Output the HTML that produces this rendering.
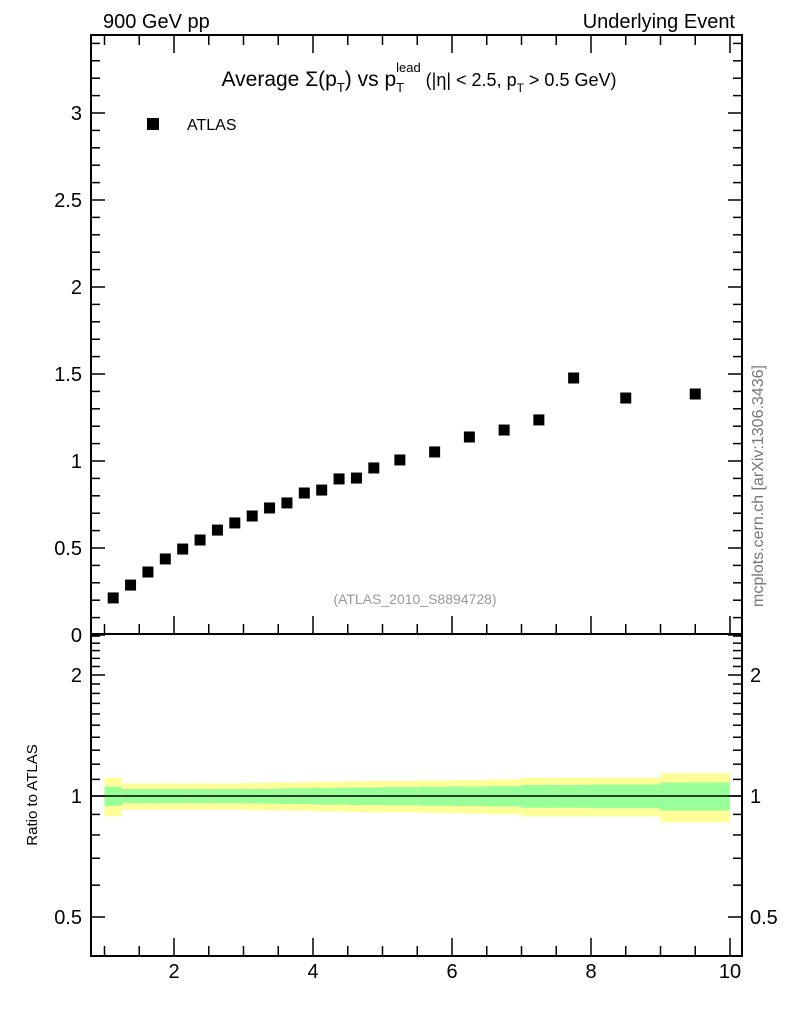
<!DOCTYPE html>
<html><head><meta charset="utf-8"><style>
body{margin:0;background:#fff;}
svg{display:block;font-family:"Liberation Sans",sans-serif;}
</style></head><body>
<svg id="c" width="786" height="1024" viewBox="0 0 786 1024" xmlns="http://www.w3.org/2000/svg">
<text x="103" y="28" font-size="20">900 GeV pp</text>
<text x="735" y="28" font-size="20" text-anchor="end">Underlying Event</text>
<text x="419" y="86" font-size="21" text-anchor="middle">Average Σ(p<tspan font-size="13" dy="6">T</tspan><tspan dy="-6">) vs p</tspan><tspan font-size="13" dy="6">T</tspan><tspan font-size="13" dx="-8" dy="-20">lead</tspan><tspan font-size="18" dy="14"> (|η| &lt; 2.5, p</tspan><tspan font-size="12" dy="6">T</tspan><tspan font-size="18" dy="-6"> &gt; 0.5 GeV)</tspan></text>
<rect x="147" y="118" width="12" height="12" fill="#000"/>
<text x="187" y="130" font-size="16">ATLAS</text>
<text x="415" y="604" font-size="14" fill="#999" text-anchor="middle">(ATLAS_2010_S8894728)</text>
<text transform="translate(763,486) rotate(-90)" font-size="16" fill="#777" text-anchor="middle">mcplots.cern.ch [arXiv:1306.3436]</text>
<text transform="translate(37,795) rotate(-90)" font-size="15" text-anchor="middle">Ratio to ATLAS</text>
<g id="bands"></g>
<g id="marks"></g>
<g id="axes"></g>
</svg>
<script>
const xEdges=[1.0,1.25,1.5,1.75,2.0,2.25,2.5,2.75,3.0,3.25,3.5,3.75,4.0,4.25,4.5,4.75,5.0,5.5,6.0,6.5,7.0,7.5,8.0,9.0,10.0];
const yValues=[0.213,0.287,0.362,0.437,0.494,0.546,0.603,0.644,0.684,0.730,0.759,0.816,0.833,0.897,0.902,0.960,1.006,1.052,1.138,1.178,1.236,1.477,1.362,1.385];
const statErr=[0.055,0.04,0.04,0.04,0.04,0.04,0.04,0.04,0.042,0.042,0.045,0.045,0.048,0.048,0.05,0.05,0.052,0.054,0.056,0.058,0.065,0.065,0.068,0.08];
const totErr=[0.11,0.075,0.075,0.075,0.075,0.075,0.075,0.075,0.078,0.08,0.08,0.082,0.085,0.085,0.088,0.09,0.09,0.092,0.095,0.10,0.11,0.11,0.11,0.14];
const yTicksTop=[0,0.5,1,1.5,2,2.5,3];
const yTicksRatio=[0.5,1,2];
const xTicks=[2,4,6,8,10];

const NS="http://www.w3.org/2000/svg";
const L=91,R=742,T=35,M=634,B=956;
const X=v=>35+(v)*69.5;
const Y=v=>635-v*174;
const YR=r=>796-Math.log2(r)*121;
function el(tag,attrs,parent){const e=document.createElementNS(NS,tag);for(const k in attrs)e.setAttribute(k,attrs[k]);parent.appendChild(e);return e;}
const bands=document.getElementById('bands'),marks=document.getElementById('marks'),axes=document.getElementById('axes');

for(let i=0;i<yValues.length;i++){
  const x0=X(xEdges[i]),x1=X(xEdges[i+1]);
  const y=el('rect',{x:x0,y:YR(1+totErr[i]),width:x1-x0,height:YR(1-totErr[i])-YR(1+totErr[i]),fill:'#ffff99'},bands);
  
  
  const g=el('rect',{x:x0,y:YR(1+statErr[i]),width:x1-x0,height:YR(1-statErr[i])-YR(1+statErr[i]),fill:'#99ff99'},bands);
  
  
  const xc=(xEdges[i]+xEdges[i+1])/2;
  const p=el('rect',{x:X(xc)-5.5,y:Y(yValues[i])-5.5,width:11,height:11,fill:'#000'},marks);
  
  
}
const ref=el('line',{x1:L,x2:R,y1:YR(1),y2:YR(1),stroke:'#000','stroke-width':1.5},marks);



function ln(x1,y1,x2,y2,w){return el('line',{x1,y1,x2,y2,stroke:'#000','stroke-width':w||1},axes);}
const f1=el('rect',{x:L,y:T,width:R-L,height:M-T,fill:'none',stroke:'#000','stroke-width':2},axes);


const f2=el('rect',{x:L,y:M,width:R-L,height:B-M,fill:'none',stroke:'#000','stroke-width':2},axes);



for(let k=0;k<=34;k++){const v=k/10;const y=Y(v);if(y<T)break;const maj=k%5===0;const len=maj?14:9;
  ln(L,y,L+len,y,1.5);ln(R,y,R-len,y,1.5);}
yTicksTop.forEach(v=>{const t=el('text',{x:82,y:Y(v)+7,'font-size':20,'text-anchor':'end'},axes);t.textContent=String(v);
  
  });
for(let k=4;k<=25;k++){const r=k/10;const y=YR(r);if(y<M||y>B)continue;const maj=(k===5||k===10||k===20);const len=maj?14:9;
  ln(L,y,L+len,y,1.5);ln(R,y,R-len,y,1.5);}
yTicksRatio.forEach(v=>{const t1=el('text',{x:82,y:YR(v)+7,'font-size':20,'text-anchor':'end'},axes);t1.textContent=String(v);
  
  
  const t2=el('text',{x:750,y:YR(v)+7,'font-size':20},axes);t2.textContent=String(v);
  
  });
for(let k=2;k<=20;k++){const v=k/2;const x=X(v);const maj=k%4===0;const len=maj?18:10;
  ln(x,B,x,B-len,1.5);ln(x,M,x,M-len,1.5);ln(x,T,x,T+len,1.5);}
xTicks.forEach(v=>{const t=el('text',{x:X(v),y:978,'font-size':20,'text-anchor':'middle'},axes);t.textContent=String(v);
  
  });
</script>
</body></html>
